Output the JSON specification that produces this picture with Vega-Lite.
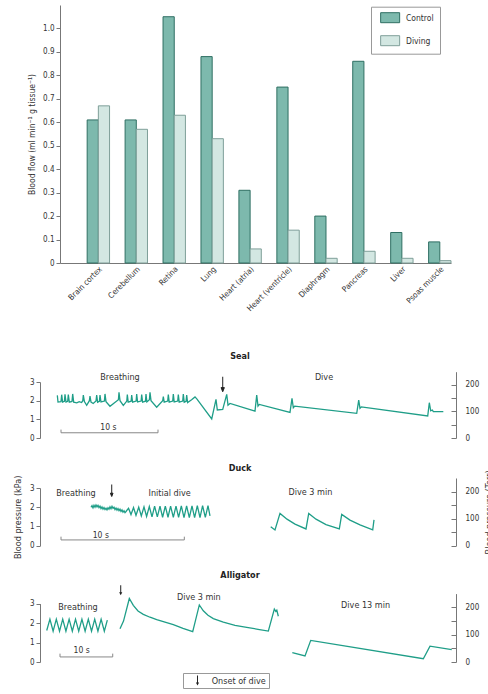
{
  "$schema": "https://vega.github.io/schema/vega-lite/v6.json",
  "padding": {"left": 13, "top": 5, "right": 0, "bottom": 0},
  "config": {
    "font": "Liberation Sans Narrow, DejaVu Sans Condensed, Liberation Sans, sans-serif",
    "view": {"stroke": null},
    "axis": {"labelFontSize": 8, "labelColor": "#333", "domainColor": "#777", "tickColor": "#777", "grid": false, "titleFontSize": 8.5, "titleFontWeight": "normal", "titleColor": "#333"},
    "title": {"fontSize": 9, "fontWeight": "bold", "color": "#222", "anchor": "middle"}
  },
  "datasets": {
    "flow": [
      {"organ": "Brain cortex", "condition": "Control", "flow": 0.61},
      {"organ": "Brain cortex", "condition": "Diving", "flow": 0.67},
      {"organ": "Cerebellum", "condition": "Control", "flow": 0.61},
      {"organ": "Cerebellum", "condition": "Diving", "flow": 0.57},
      {"organ": "Retina", "condition": "Control", "flow": 1.05},
      {"organ": "Retina", "condition": "Diving", "flow": 0.63},
      {"organ": "Lung", "condition": "Control", "flow": 0.88},
      {"organ": "Lung", "condition": "Diving", "flow": 0.53},
      {"organ": "Heart (atria)", "condition": "Control", "flow": 0.31},
      {"organ": "Heart (atria)", "condition": "Diving", "flow": 0.06},
      {"organ": "Heart (ventricle)", "condition": "Control", "flow": 0.75},
      {"organ": "Heart (ventricle)", "condition": "Diving", "flow": 0.14},
      {"organ": "Diaphragm", "condition": "Control", "flow": 0.2},
      {"organ": "Diaphragm", "condition": "Diving", "flow": 0.02},
      {"organ": "Pancreas", "condition": "Control", "flow": 0.86},
      {"organ": "Pancreas", "condition": "Diving", "flow": 0.05},
      {"organ": "Liver", "condition": "Control", "flow": 0.13},
      {"organ": "Liver", "condition": "Diving", "flow": 0.02},
      {"organ": "Psoas muscle", "condition": "Control", "flow": 0.09},
      {"organ": "Psoas muscle", "condition": "Diving", "flow": 0.01}
    ],
    "traces": [
      {"animal": "Seal", "seg": 1, "t": 4.33, "kPa": 2.28},
      {"animal": "Seal", "seg": 1, "t": 4.5, "kPa": 1.93},
      {"animal": "Seal", "seg": 1, "t": 5.25, "kPa": 1.95},
      {"animal": "Seal", "seg": 1, "t": 5.42, "kPa": 2.32},
      {"animal": "Seal", "seg": 1, "t": 5.65, "kPa": 1.92},
      {"animal": "Seal", "seg": 1, "t": 6.1, "kPa": 1.96},
      {"animal": "Seal", "seg": 1, "t": 6.25, "kPa": 2.34},
      {"animal": "Seal", "seg": 1, "t": 6.5, "kPa": 1.93},
      {"animal": "Seal", "seg": 1, "t": 6.92, "kPa": 1.97},
      {"animal": "Seal", "seg": 1, "t": 7.08, "kPa": 2.33},
      {"animal": "Seal", "seg": 1, "t": 7.33, "kPa": 1.92},
      {"animal": "Seal", "seg": 1, "t": 8.0, "kPa": 1.96},
      {"animal": "Seal", "seg": 1, "t": 8.17, "kPa": 2.36},
      {"animal": "Seal", "seg": 1, "t": 8.42, "kPa": 1.92},
      {"animal": "Seal", "seg": 1, "t": 9.2, "kPa": 1.88},
      {"animal": "Seal", "seg": 1, "t": 9.8, "kPa": 1.95},
      {"animal": "Seal", "seg": 1, "t": 10.4, "kPa": 1.9},
      {"animal": "Seal", "seg": 1, "t": 10.7, "kPa": 2.0},
      {"animal": "Seal", "seg": 1, "t": 10.83, "kPa": 2.3},
      {"animal": "Seal", "seg": 1, "t": 11.1, "kPa": 1.95},
      {"animal": "Seal", "seg": 1, "t": 11.67, "kPa": 1.75},
      {"animal": "Seal", "seg": 1, "t": 12.35, "kPa": 2.0},
      {"animal": "Seal", "seg": 1, "t": 12.5, "kPa": 2.25},
      {"animal": "Seal", "seg": 1, "t": 12.75, "kPa": 1.92},
      {"animal": "Seal", "seg": 1, "t": 13.3, "kPa": 1.85},
      {"animal": "Seal", "seg": 1, "t": 14.0, "kPa": 1.98},
      {"animal": "Seal", "seg": 1, "t": 14.17, "kPa": 2.3},
      {"animal": "Seal", "seg": 1, "t": 14.4, "kPa": 1.92},
      {"animal": "Seal", "seg": 1, "t": 14.85, "kPa": 1.97},
      {"animal": "Seal", "seg": 1, "t": 15.0, "kPa": 2.3},
      {"animal": "Seal", "seg": 1, "t": 15.25, "kPa": 1.93},
      {"animal": "Seal", "seg": 1, "t": 16.1, "kPa": 1.98},
      {"animal": "Seal", "seg": 1, "t": 16.25, "kPa": 2.36},
      {"animal": "Seal", "seg": 1, "t": 16.5, "kPa": 1.95},
      {"animal": "Seal", "seg": 1, "t": 17.5, "kPa": 1.7},
      {"animal": "Seal", "seg": 1, "t": 19.6, "kPa": 2.05},
      {"animal": "Seal", "seg": 1, "t": 19.75, "kPa": 2.45},
      {"animal": "Seal", "seg": 1, "t": 20.0, "kPa": 2.0},
      {"animal": "Seal", "seg": 1, "t": 20.83, "kPa": 1.75},
      {"animal": "Seal", "seg": 1, "t": 21.7, "kPa": 1.98},
      {"animal": "Seal", "seg": 1, "t": 21.83, "kPa": 2.33},
      {"animal": "Seal", "seg": 1, "t": 22.05, "kPa": 1.92},
      {"animal": "Seal", "seg": 1, "t": 22.78, "kPa": 1.97},
      {"animal": "Seal", "seg": 1, "t": 22.92, "kPa": 2.3},
      {"animal": "Seal", "seg": 1, "t": 23.15, "kPa": 1.92},
      {"animal": "Seal", "seg": 1, "t": 24.03, "kPa": 1.98},
      {"animal": "Seal", "seg": 1, "t": 24.17, "kPa": 2.35},
      {"animal": "Seal", "seg": 1, "t": 24.4, "kPa": 1.93},
      {"animal": "Seal", "seg": 1, "t": 25.28, "kPa": 1.98},
      {"animal": "Seal", "seg": 1, "t": 25.42, "kPa": 2.33},
      {"animal": "Seal", "seg": 1, "t": 25.65, "kPa": 1.92},
      {"animal": "Seal", "seg": 1, "t": 26.36, "kPa": 1.97},
      {"animal": "Seal", "seg": 1, "t": 26.5, "kPa": 2.35},
      {"animal": "Seal", "seg": 1, "t": 26.72, "kPa": 1.93},
      {"animal": "Seal", "seg": 1, "t": 27.35, "kPa": 2.05},
      {"animal": "Seal", "seg": 1, "t": 27.5, "kPa": 2.45},
      {"animal": "Seal", "seg": 1, "t": 27.75, "kPa": 2.0},
      {"animal": "Seal", "seg": 1, "t": 29.17, "kPa": 1.65},
      {"animal": "Seal", "seg": 1, "t": 30.68, "kPa": 2.0},
      {"animal": "Seal", "seg": 1, "t": 30.83, "kPa": 2.22},
      {"animal": "Seal", "seg": 1, "t": 31.05, "kPa": 1.92},
      {"animal": "Seal", "seg": 1, "t": 31.93, "kPa": 1.98},
      {"animal": "Seal", "seg": 1, "t": 32.08, "kPa": 2.33},
      {"animal": "Seal", "seg": 1, "t": 32.3, "kPa": 1.92},
      {"animal": "Seal", "seg": 1, "t": 33.18, "kPa": 1.98},
      {"animal": "Seal", "seg": 1, "t": 33.33, "kPa": 2.35},
      {"animal": "Seal", "seg": 1, "t": 33.55, "kPa": 1.93},
      {"animal": "Seal", "seg": 1, "t": 34.43, "kPa": 1.98},
      {"animal": "Seal", "seg": 1, "t": 34.58, "kPa": 2.33},
      {"animal": "Seal", "seg": 1, "t": 34.8, "kPa": 1.92},
      {"animal": "Seal", "seg": 1, "t": 35.68, "kPa": 1.98},
      {"animal": "Seal", "seg": 1, "t": 35.83, "kPa": 2.35},
      {"animal": "Seal", "seg": 1, "t": 36.05, "kPa": 1.92},
      {"animal": "Seal", "seg": 1, "t": 36.52, "kPa": 1.97},
      {"animal": "Seal", "seg": 1, "t": 36.67, "kPa": 2.3},
      {"animal": "Seal", "seg": 1, "t": 36.9, "kPa": 1.9},
      {"animal": "Seal", "seg": 1, "t": 37.9, "kPa": 2.05},
      {"animal": "Seal", "seg": 1, "t": 38.75, "kPa": 2.2},
      {"animal": "Seal", "seg": 1, "t": 39.25, "kPa": 2.08},
      {"animal": "Seal", "seg": 1, "t": 42.93, "kPa": 1.02},
      {"animal": "Seal", "seg": 1, "t": 44.0, "kPa": 2.07},
      {"animal": "Seal", "seg": 1, "t": 44.33, "kPa": 1.5},
      {"animal": "Seal", "seg": 1, "t": 45.68, "kPa": 1.53},
      {"animal": "Seal", "seg": 1, "t": 46.68, "kPa": 2.34},
      {"animal": "Seal", "seg": 1, "t": 47.0, "kPa": 1.76},
      {"animal": "Seal", "seg": 1, "t": 47.5, "kPa": 1.85},
      {"animal": "Seal", "seg": 1, "t": 53.75, "kPa": 1.44},
      {"animal": "Seal", "seg": 1, "t": 54.18, "kPa": 2.3},
      {"animal": "Seal", "seg": 1, "t": 54.5, "kPa": 1.71},
      {"animal": "Seal", "seg": 1, "t": 54.83, "kPa": 1.8},
      {"animal": "Seal", "seg": 1, "t": 62.5, "kPa": 1.37},
      {"animal": "Seal", "seg": 1, "t": 63.0, "kPa": 2.12},
      {"animal": "Seal", "seg": 1, "t": 63.33, "kPa": 1.62},
      {"animal": "Seal", "seg": 1, "t": 63.68, "kPa": 1.71},
      {"animal": "Seal", "seg": 1, "t": 79.18, "kPa": 1.32},
      {"animal": "Seal", "seg": 1, "t": 79.68, "kPa": 2.03},
      {"animal": "Seal", "seg": 1, "t": 80.0, "kPa": 1.59},
      {"animal": "Seal", "seg": 1, "t": 80.33, "kPa": 1.67},
      {"animal": "Seal", "seg": 1, "t": 96.93, "kPa": 1.18},
      {"animal": "Seal", "seg": 1, "t": 97.33, "kPa": 1.89},
      {"animal": "Seal", "seg": 1, "t": 97.68, "kPa": 1.46},
      {"animal": "Seal", "seg": 1, "t": 98.08, "kPa": 1.5},
      {"animal": "Seal", "seg": 1, "t": 98.33, "kPa": 1.41},
      {"animal": "Seal", "seg": 1, "t": 100.83, "kPa": 1.41},

      {"animal": "Duck", "seg": 1, "t": 12.75, "kPa": 2.0},
      {"animal": "Duck", "seg": 1, "t": 13.0, "kPa": 2.08},
      {"animal": "Duck", "seg": 1, "t": 13.25, "kPa": 1.97},
      {"animal": "Duck", "seg": 1, "t": 13.5, "kPa": 2.1},
      {"animal": "Duck", "seg": 1, "t": 13.75, "kPa": 2.0},
      {"animal": "Duck", "seg": 1, "t": 14.0, "kPa": 2.12},
      {"animal": "Duck", "seg": 1, "t": 14.25, "kPa": 2.02},
      {"animal": "Duck", "seg": 1, "t": 14.5, "kPa": 2.1},
      {"animal": "Duck", "seg": 1, "t": 14.75, "kPa": 1.98},
      {"animal": "Duck", "seg": 1, "t": 15.0, "kPa": 2.06},
      {"animal": "Duck", "seg": 1, "t": 15.25, "kPa": 1.93},
      {"animal": "Duck", "seg": 1, "t": 15.5, "kPa": 2.02},
      {"animal": "Duck", "seg": 1, "t": 15.75, "kPa": 1.9},
      {"animal": "Duck", "seg": 1, "t": 16.0, "kPa": 1.98},
      {"animal": "Duck", "seg": 1, "t": 16.25, "kPa": 1.88},
      {"animal": "Duck", "seg": 1, "t": 16.5, "kPa": 1.95},
      {"animal": "Duck", "seg": 1, "t": 16.75, "kPa": 1.86},
      {"animal": "Duck", "seg": 1, "t": 17.0, "kPa": 1.97},
      {"animal": "Duck", "seg": 1, "t": 17.25, "kPa": 1.9},
      {"animal": "Duck", "seg": 1, "t": 17.5, "kPa": 2.02},
      {"animal": "Duck", "seg": 1, "t": 17.75, "kPa": 1.92},
      {"animal": "Duck", "seg": 1, "t": 18.0, "kPa": 2.05},
      {"animal": "Duck", "seg": 1, "t": 18.25, "kPa": 1.94},
      {"animal": "Duck", "seg": 1, "t": 18.5, "kPa": 2.0},
      {"animal": "Duck", "seg": 1, "t": 18.75, "kPa": 1.88},
      {"animal": "Duck", "seg": 1, "t": 19.0, "kPa": 1.96},
      {"animal": "Duck", "seg": 1, "t": 19.25, "kPa": 1.85},
      {"animal": "Duck", "seg": 1, "t": 19.5, "kPa": 1.93},
      {"animal": "Duck", "seg": 1, "t": 19.75, "kPa": 1.82},
      {"animal": "Duck", "seg": 1, "t": 20.0, "kPa": 1.9},
      {"animal": "Duck", "seg": 1, "t": 20.25, "kPa": 1.78},
      {"animal": "Duck", "seg": 1, "t": 20.5, "kPa": 1.86},
      {"animal": "Duck", "seg": 1, "t": 20.75, "kPa": 1.74},
      {"animal": "Duck", "seg": 1, "t": 21.0, "kPa": 1.82},
      {"animal": "Duck", "seg": 1, "t": 21.25, "kPa": 1.72},
      {"animal": "Duck", "seg": 1, "t": 21.5, "kPa": 1.78},
      {"animal": "Duck", "seg": 1, "t": 22.13, "kPa": 1.95},
      {"animal": "Duck", "seg": 1, "t": 22.75, "kPa": 1.62},
      {"animal": "Duck", "seg": 1, "t": 23.38, "kPa": 1.98},
      {"animal": "Duck", "seg": 1, "t": 24.0, "kPa": 1.58},
      {"animal": "Duck", "seg": 1, "t": 24.68, "kPa": 2.0},
      {"animal": "Duck", "seg": 1, "t": 25.33, "kPa": 1.55},
      {"animal": "Duck", "seg": 1, "t": 26.0, "kPa": 2.02},
      {"animal": "Duck", "seg": 1, "t": 26.65, "kPa": 1.52},
      {"animal": "Duck", "seg": 1, "t": 27.33, "kPa": 2.04},
      {"animal": "Duck", "seg": 1, "t": 28.0, "kPa": 1.5},
      {"animal": "Duck", "seg": 1, "t": 28.65, "kPa": 2.05},
      {"animal": "Duck", "seg": 1, "t": 29.33, "kPa": 1.5},
      {"animal": "Duck", "seg": 1, "t": 30.0, "kPa": 2.05},
      {"animal": "Duck", "seg": 1, "t": 30.65, "kPa": 1.48},
      {"animal": "Duck", "seg": 1, "t": 31.33, "kPa": 2.06},
      {"animal": "Duck", "seg": 1, "t": 32.0, "kPa": 1.48},
      {"animal": "Duck", "seg": 1, "t": 32.65, "kPa": 2.06},
      {"animal": "Duck", "seg": 1, "t": 33.33, "kPa": 1.47},
      {"animal": "Duck", "seg": 1, "t": 34.0, "kPa": 2.06},
      {"animal": "Duck", "seg": 1, "t": 34.65, "kPa": 1.47},
      {"animal": "Duck", "seg": 1, "t": 35.33, "kPa": 2.07},
      {"animal": "Duck", "seg": 1, "t": 36.0, "kPa": 1.46},
      {"animal": "Duck", "seg": 1, "t": 36.65, "kPa": 2.07},
      {"animal": "Duck", "seg": 1, "t": 37.33, "kPa": 1.46},
      {"animal": "Duck", "seg": 1, "t": 38.0, "kPa": 2.07},
      {"animal": "Duck", "seg": 1, "t": 38.65, "kPa": 1.46},
      {"animal": "Duck", "seg": 1, "t": 39.33, "kPa": 2.08},
      {"animal": "Duck", "seg": 1, "t": 40.0, "kPa": 1.46},
      {"animal": "Duck", "seg": 1, "t": 40.65, "kPa": 2.08},
      {"animal": "Duck", "seg": 1, "t": 41.33, "kPa": 1.47},
      {"animal": "Duck", "seg": 1, "t": 42.0, "kPa": 2.08},
      {"animal": "Duck", "seg": 1, "t": 42.5, "kPa": 1.55},
      {"animal": "Duck", "seg": 2, "t": 57.68, "kPa": 0.99},
      {"animal": "Duck", "seg": 2, "t": 58.75, "kPa": 0.82},
      {"animal": "Duck", "seg": 2, "t": 60.0, "kPa": 1.68},
      {"animal": "Duck", "seg": 2, "t": 61.75, "kPa": 1.38},
      {"animal": "Duck", "seg": 2, "t": 63.75, "kPa": 1.12},
      {"animal": "Duck", "seg": 2, "t": 66.5, "kPa": 0.87},
      {"animal": "Duck", "seg": 2, "t": 67.18, "kPa": 1.68},
      {"animal": "Duck", "seg": 2, "t": 69.0, "kPa": 1.38},
      {"animal": "Duck", "seg": 2, "t": 71.5, "kPa": 1.1},
      {"animal": "Duck", "seg": 2, "t": 74.83, "kPa": 0.87},
      {"animal": "Duck", "seg": 2, "t": 75.43, "kPa": 1.63},
      {"animal": "Duck", "seg": 2, "t": 77.5, "kPa": 1.33},
      {"animal": "Duck", "seg": 2, "t": 80.0, "kPa": 1.08},
      {"animal": "Duck", "seg": 2, "t": 83.18, "kPa": 0.82},
      {"animal": "Duck", "seg": 2, "t": 83.5, "kPa": 1.34},

      {"animal": "Alligator", "seg": 1, "t": 1.68, "kPa": 1.62},
      {"animal": "Alligator", "seg": 1, "t": 2.48, "kPa": 2.2},
      {"animal": "Alligator", "seg": 1, "t": 3.28, "kPa": 1.58},
      {"animal": "Alligator", "seg": 1, "t": 4.08, "kPa": 2.2},
      {"animal": "Alligator", "seg": 1, "t": 4.88, "kPa": 1.58},
      {"animal": "Alligator", "seg": 1, "t": 5.68, "kPa": 2.2},
      {"animal": "Alligator", "seg": 1, "t": 6.48, "kPa": 1.58},
      {"animal": "Alligator", "seg": 1, "t": 7.28, "kPa": 2.2},
      {"animal": "Alligator", "seg": 1, "t": 8.08, "kPa": 1.58},
      {"animal": "Alligator", "seg": 1, "t": 8.88, "kPa": 2.2},
      {"animal": "Alligator", "seg": 1, "t": 9.68, "kPa": 1.58},
      {"animal": "Alligator", "seg": 1, "t": 10.48, "kPa": 2.2},
      {"animal": "Alligator", "seg": 1, "t": 11.28, "kPa": 1.58},
      {"animal": "Alligator", "seg": 1, "t": 12.08, "kPa": 2.2},
      {"animal": "Alligator", "seg": 1, "t": 12.88, "kPa": 1.58},
      {"animal": "Alligator", "seg": 1, "t": 13.68, "kPa": 2.2},
      {"animal": "Alligator", "seg": 1, "t": 14.48, "kPa": 1.58},
      {"animal": "Alligator", "seg": 1, "t": 15.28, "kPa": 2.2},
      {"animal": "Alligator", "seg": 1, "t": 16.08, "kPa": 1.58},
      {"animal": "Alligator", "seg": 1, "t": 16.83, "kPa": 2.15},
      {"animal": "Alligator", "seg": 2, "t": 20.0, "kPa": 1.71},
      {"animal": "Alligator", "seg": 2, "t": 20.88, "kPa": 2.1},
      {"animal": "Alligator", "seg": 2, "t": 22.33, "kPa": 3.26},
      {"animal": "Alligator", "seg": 2, "t": 23.33, "kPa": 2.91},
      {"animal": "Alligator", "seg": 2, "t": 24.5, "kPa": 2.62},
      {"animal": "Alligator", "seg": 2, "t": 25.83, "kPa": 2.45},
      {"animal": "Alligator", "seg": 2, "t": 27.5, "kPa": 2.3},
      {"animal": "Alligator", "seg": 2, "t": 29.18, "kPa": 2.18},
      {"animal": "Alligator", "seg": 2, "t": 31.25, "kPa": 2.05},
      {"animal": "Alligator", "seg": 2, "t": 33.33, "kPa": 1.92},
      {"animal": "Alligator", "seg": 2, "t": 35.75, "kPa": 1.73},
      {"animal": "Alligator", "seg": 2, "t": 38.18, "kPa": 1.56},
      {"animal": "Alligator", "seg": 2, "t": 39.83, "kPa": 2.93},
      {"animal": "Alligator", "seg": 2, "t": 40.83, "kPa": 2.63},
      {"animal": "Alligator", "seg": 2, "t": 42.0, "kPa": 2.4},
      {"animal": "Alligator", "seg": 2, "t": 43.33, "kPa": 2.23},
      {"animal": "Alligator", "seg": 2, "t": 45.83, "kPa": 2.05},
      {"animal": "Alligator", "seg": 2, "t": 48.75, "kPa": 1.88},
      {"animal": "Alligator", "seg": 2, "t": 51.68, "kPa": 1.78},
      {"animal": "Alligator", "seg": 2, "t": 54.5, "kPa": 1.68},
      {"animal": "Alligator", "seg": 2, "t": 57.08, "kPa": 1.59},
      {"animal": "Alligator", "seg": 2, "t": 58.58, "kPa": 2.72},
      {"animal": "Alligator", "seg": 2, "t": 58.95, "kPa": 2.6},
      {"animal": "Alligator", "seg": 2, "t": 59.2, "kPa": 2.66},
      {"animal": "Alligator", "seg": 2, "t": 59.58, "kPa": 2.35},
      {"animal": "Alligator", "seg": 3, "t": 63.08, "kPa": 0.48},
      {"animal": "Alligator", "seg": 3, "t": 66.25, "kPa": 0.31},
      {"animal": "Alligator", "seg": 3, "t": 67.68, "kPa": 1.11},
      {"animal": "Alligator", "seg": 3, "t": 95.83, "kPa": 0.17},
      {"animal": "Alligator", "seg": 3, "t": 97.5, "kPa": 0.81},
      {"animal": "Alligator", "seg": 3, "t": 102.93, "kPa": 0.64}
    ],
    "notes": [
      {"animal": "Seal", "text": "Breathing", "t": 20, "torr": 231},
      {"animal": "Seal", "text": "Dive", "t": 71, "torr": 231},
      {"animal": "Duck", "text": "Breathing", "t": 9, "torr": 193.5},
      {"animal": "Duck", "text": "Initial dive", "t": 32.4, "torr": 193.5},
      {"animal": "Duck", "text": "Dive 3 min", "t": 67.6, "torr": 199},
      {"animal": "Alligator", "text": "Breathing", "t": 9.5, "torr": 201},
      {"animal": "Alligator", "text": "Dive 3 min", "t": 39.7, "torr": 237.6},
      {"animal": "Alligator", "text": "Dive 13 min", "t": 81.4, "torr": 207}
    ],
    "scalebars": [
      {"animal": "Seal", "i": 1, "t": 5.25, "kPa": 0.45},
      {"animal": "Seal", "i": 2, "t": 5.25, "kPa": 0.28},
      {"animal": "Seal", "i": 3, "t": 29.5, "kPa": 0.28},
      {"animal": "Seal", "i": 4, "t": 29.5, "kPa": 0.45},
      {"animal": "Duck", "i": 1, "t": 5.25, "kPa": 0.47},
      {"animal": "Duck", "i": 2, "t": 5.25, "kPa": 0.3},
      {"animal": "Duck", "i": 3, "t": 36.08, "kPa": 0.3},
      {"animal": "Duck", "i": 4, "t": 36.08, "kPa": 0.47},
      {"animal": "Alligator", "i": 1, "t": 5, "kPa": 0.43},
      {"animal": "Alligator", "i": 2, "t": 5, "kPa": 0.26},
      {"animal": "Alligator", "i": 3, "t": 18.18, "kPa": 0.26},
      {"animal": "Alligator", "i": 4, "t": 18.18, "kPa": 0.43}
    ],
    "scalelabels": [
      {"animal": "Seal", "text": "10 s", "t": 17.1, "kPa": 0.59},
      {"animal": "Duck", "text": "10 s", "t": 15.2, "kPa": 0.56},
      {"animal": "Alligator", "text": "10 s", "t": 10.4, "kPa": 0.6}
    ],
    "onsets": [
      {"animal": "Seal", "t": 45.68, "kPa": 2.88},
      {"animal": "Duck", "t": 17.93, "kPa": 2.87},
      {"animal": "Alligator", "t": 20.18, "kPa": 3.68, "event": "Onset of dive"}
    ]
  },
  "spacing": 40,
  "bounds": "flush",
  "resolve": {"legend": {"fill": "independent", "shape": "independent"}, "scale": {"fill": "independent", "shape": "independent", "stroke": "independent"}},
  "vconcat": [
    {
      "width": 391,
      "height": 258,
      "data": {"name": "flow"},
      "mark": {"type": "bar", "strokeWidth": 1},
      "encoding": {
        "x": {"field": "organ", "type": "nominal", "sort": null,
              "scale": {"paddingInner": 0.41, "paddingOuter": 0.358, "align": 1},
              "axis": {"title": null, "labelAngle": -45, "ticks": false, "labelPadding": 2, "labelFontSize": 8}},
        "xOffset": {"field": "condition", "type": "nominal", "sort": ["Control", "Diving"]},
        "y": {"field": "flow", "type": "quantitative",
              "scale": {"domain": [0, 1.1], "nice": false},
              "axis": {"title": "Blood flow (ml min⁻¹ g tissue⁻¹)", "values": [0, 0.1, 0.2, 0.3, 0.4, 0.5, 0.6, 0.7, 0.8, 0.9, 1.0],
                       "labelExpr": "datum.value == 0 ? '0' : format(datum.value, '.1f')",
                       "tickSize": 4, "labelPadding": 2, "titlePadding": 6}},
        "fill": {"field": "condition", "type": "nominal",
                 "scale": {"domain": ["Control", "Diving"], "range": ["#7db9ad", "#d3e7e2"]},
                 "legend": {"title": null, "orient": "none", "legendX": 311, "legendY": 1.7, "direction": "vertical",
                            "symbolType": "M-1.9,-1H1.9V1H-1.9Z", "symbolSize": 100, "symbolStrokeWidth": 1,
                            "symbolStrokeColor": "#3b7b6f", "symbolOffset": 8.15, "labelOffset": 10.35,
                            "padding": 5.5, "rowPadding": 8, "strokeColor": "#999", "fillColor": "white",
                            "labelFontSize": 8.5, "labelColor": "#333"}},
        "stroke": {"field": "condition", "type": "nominal",
                   "scale": {"domain": ["Control", "Diving"], "range": ["#2f6f63", "#7f9f99"]}, "legend": null}
      }
    },
    {
      "width": 396,
      "height": 135,
      "title": {"text": "Seal", "offset": -58, "dx": -18},
      "layer": [
        {
          "data": {"name": "traces"},
          "transform": [{"filter": "datum.animal === 'Seal'"}],
          "mark": {"type": "line", "color": "#1f9e88", "strokeWidth": 1.3},
          "encoding": {
            "x": {"field": "t", "type": "quantitative", "scale": {"domain": [0, 104], "range": [-20, 396], "nice": false, "zero": false},
                  "axis": {"title": null, "labels": false, "ticks": false}},
            "y": {"field": "kPa", "type": "quantitative", "scale": {"domain": [0, 3], "range": [135, 79], "nice": false},
                  "axis": {"title": null, "orient": "left", "offset": 20, "values": [0, 1, 2, 3], "tickSize": 4, "labelPadding": 2}},
            "detail": {"field": "seg"}
          }
        },
        {
          "data": {"name": "notes"},
          "transform": [{"filter": "datum.animal === 'Seal'"}],
          "mark": {"type": "text", "fontSize": 9, "color": "#333", "baseline": "middle"},
          "encoding": {
            "x": {"field": "t", "type": "quantitative", "axis": null},
            "y": {"field": "torr", "type": "quantitative", "scale": {"domain": [0, 250], "range": [135, 68.7], "nice": false},
                  "axis": {"title": null, "orient": "right", "values": [0, 50, 100, 150, 200],
                           "labelExpr": "datum.value % 100 === 0 ? datum.label : ''", "tickSize": -5, "labelPadding": 14}},
            "text": {"field": "text"}
          }
        },
        {
          "data": {"name": "scalebars"},
          "transform": [{"filter": "datum.animal === 'Seal'"}],
          "mark": {"type": "line", "color": "#888", "strokeWidth": 1},
          "encoding": {
            "x": {"field": "t", "type": "quantitative", "axis": null},
            "y": {"field": "kPa", "type": "quantitative", "scale": {"domain": [0, 3], "range": [135, 79], "nice": false}, "axis": null},
            "order": {"field": "i"}
          }
        },
        {
          "data": {"name": "scalelabels"},
          "transform": [{"filter": "datum.animal === 'Seal'"}],
          "mark": {"type": "text", "fontSize": 8.5, "color": "#333", "baseline": "middle"},
          "encoding": {
            "x": {"field": "t", "type": "quantitative", "axis": null},
            "y": {"field": "kPa", "type": "quantitative", "scale": {"domain": [0, 3], "range": [135, 79], "nice": false}, "axis": null},
            "text": {"field": "text"}
          }
        },
        {
          "data": {"name": "onsets"},
          "transform": [{"filter": "datum.animal === 'Seal'"}],
          "mark": {"type": "point", "shape": "M0,-1V0.5M-0.22,0.45L0,1L0.22,0.45Z", "size": 225, "filled": true, "color": "#222", "stroke": "#222", "strokeWidth": 1, "opacity": 1},
          "encoding": {
            "x": {"field": "t", "type": "quantitative", "axis": null},
            "y": {"field": "kPa", "type": "quantitative", "scale": {"domain": [0, 3], "range": [135, 79], "nice": false}, "axis": null}
          }
        }
      ],
      "resolve": {"scale": {"y": "independent"}}
    },
    {
      "width": 396,
      "height": 67.7,
      "title": {"text": "Duck", "offset": -3, "dx": -18},
      "layer": [
        {
          "data": {"name": "traces"},
          "transform": [{"filter": "datum.animal === 'Duck'"}],
          "mark": {"type": "line", "color": "#1f9e88", "strokeWidth": 1.3},
          "encoding": {
            "x": {"field": "t", "type": "quantitative", "scale": {"domain": [0, 104], "range": [-20, 396], "nice": false, "zero": false},
                  "axis": {"title": null, "labels": false, "ticks": false}},
            "y": {"field": "kPa", "type": "quantitative", "scale": {"domain": [0, 3], "range": [67.7, 10], "nice": false},
                  "axis": {"title": "Blood pressure (kPa)", "titleFontSize": 9, "titlePadding": 7, "orient": "left", "offset": 20, "values": [0, 1, 2, 3], "tickSize": 4, "labelPadding": 2}},
            "detail": {"field": "seg"}
          }
        },
        {
          "data": {"name": "notes"},
          "transform": [{"filter": "datum.animal === 'Duck'"}],
          "mark": {"type": "text", "fontSize": 9, "color": "#333", "baseline": "middle"},
          "encoding": {
            "x": {"field": "t", "type": "quantitative", "axis": null},
            "y": {"field": "torr", "type": "quantitative", "scale": {"domain": [0, 250], "range": [67.7, 0], "nice": false},
                  "axis": {"title": "Blood pressure (Torr)", "titleAngle": 270, "titleFontSize": 9, "titlePadding": 15, "orient": "right", "values": [0, 50, 100, 150, 200],
                           "labelExpr": "datum.value % 100 === 0 ? datum.label : ''", "tickSize": -5, "labelPadding": 14}},
            "text": {"field": "text"}
          }
        },
        {
          "data": {"name": "scalebars"},
          "transform": [{"filter": "datum.animal === 'Duck'"}],
          "mark": {"type": "line", "color": "#888", "strokeWidth": 1},
          "encoding": {
            "x": {"field": "t", "type": "quantitative", "axis": null},
            "y": {"field": "kPa", "type": "quantitative", "scale": {"domain": [0, 3], "range": [67.7, 10], "nice": false}, "axis": null},
            "order": {"field": "i"}
          }
        },
        {
          "data": {"name": "scalelabels"},
          "transform": [{"filter": "datum.animal === 'Duck'"}],
          "mark": {"type": "text", "fontSize": 8.5, "color": "#333", "baseline": "middle"},
          "encoding": {
            "x": {"field": "t", "type": "quantitative", "axis": null},
            "y": {"field": "kPa", "type": "quantitative", "scale": {"domain": [0, 3], "range": [67.7, 10], "nice": false}, "axis": null},
            "text": {"field": "text"}
          }
        },
        {
          "data": {"name": "onsets"},
          "transform": [{"filter": "datum.animal === 'Duck'"}],
          "mark": {"type": "point", "shape": "M0,-1V0.5M-0.22,0.45L0,1L0.22,0.45Z", "size": 144, "filled": true, "color": "#222", "stroke": "#222", "strokeWidth": 1, "opacity": 1},
          "encoding": {
            "x": {"field": "t", "type": "quantitative", "axis": null},
            "y": {"field": "kPa", "type": "quantitative", "scale": {"domain": [0, 3], "range": [67.7, 10], "nice": false}, "axis": null}
          }
        }
      ],
      "resolve": {"scale": {"y": "independent"}}
    },
    {
      "width": 396,
      "height": 76,
      "title": {"text": "Alligator", "offset": 5.7, "dx": -18},
      "layer": [
        {
          "data": {"name": "traces"},
          "transform": [{"filter": "datum.animal === 'Alligator'"}],
          "mark": {"type": "line", "color": "#1f9e88", "strokeWidth": 1.3},
          "encoding": {
            "x": {"field": "t", "type": "quantitative", "scale": {"domain": [0, 104], "range": [-20, 396], "nice": false, "zero": false},
                  "axis": {"title": null, "labels": false, "ticks": false}},
            "y": {"field": "kPa", "type": "quantitative", "scale": {"domain": [0, 3], "range": [76, 17.6], "nice": false},
                  "axis": {"title": null, "orient": "left", "offset": 20, "values": [0, 1, 2, 3], "tickSize": 4, "labelPadding": 2}},
            "detail": {"field": "seg"}
          }
        },
        {
          "data": {"name": "notes"},
          "transform": [{"filter": "datum.animal === 'Alligator'"}],
          "mark": {"type": "text", "fontSize": 9, "color": "#333", "baseline": "middle"},
          "encoding": {
            "x": {"field": "t", "type": "quantitative", "axis": null},
            "y": {"field": "torr", "type": "quantitative", "scale": {"domain": [0, 250], "range": [76, 7.6], "nice": false},
                  "axis": {"title": null, "orient": "right", "values": [0, 50, 100, 150, 200],
                           "labelExpr": "datum.value % 100 === 0 ? datum.label : ''", "tickSize": -5, "labelPadding": 14}},
            "text": {"field": "text"}
          }
        },
        {
          "data": {"name": "scalebars"},
          "transform": [{"filter": "datum.animal === 'Alligator'"}],
          "mark": {"type": "line", "color": "#888", "strokeWidth": 1},
          "encoding": {
            "x": {"field": "t", "type": "quantitative", "axis": null},
            "y": {"field": "kPa", "type": "quantitative", "scale": {"domain": [0, 3], "range": [76, 17.6], "nice": false}, "axis": null},
            "order": {"field": "i"}
          }
        },
        {
          "data": {"name": "scalelabels"},
          "transform": [{"filter": "datum.animal === 'Alligator'"}],
          "mark": {"type": "text", "fontSize": 8.5, "color": "#333", "baseline": "middle"},
          "encoding": {
            "x": {"field": "t", "type": "quantitative", "axis": null},
            "y": {"field": "kPa", "type": "quantitative", "scale": {"domain": [0, 3], "range": [76, 17.6], "nice": false}, "axis": null},
            "text": {"field": "text"}
          }
        },
        {
          "data": {"name": "onsets"},
          "transform": [{"filter": "datum.animal === 'Alligator'"}],
          "mark": {"type": "point", "size": 100, "filled": true, "color": "#222", "opacity": 1},
          "encoding": {
            "x": {"field": "t", "type": "quantitative", "axis": null},
            "y": {"field": "kPa", "type": "quantitative", "scale": {"domain": [0, 3], "range": [76, 17.6], "nice": false}, "axis": null},
            "shape": {"field": "event", "type": "nominal",
                      "scale": {"range": ["M-0.1,-1H0.1V0.4H0.32L0,1L-0.32,0.4H-0.1Z"]},
                      "legend": {"title": null, "orient": "none", "legendX": 123, "legendY": 87,
                                 "symbolType": "M-0.1,-1H0.1V0.4H0.32L0,1L-0.32,0.4H-0.1Z",
                                 "symbolSize": 100, "symbolFillColor": "#222", "symbolStrokeColor": "#222", "symbolStrokeWidth": 0,
                                 "padding": 2.5, "symbolOffset": 7, "labelOffset": 9.2, "strokeColor": "#999", "fillColor": "white",
                                 "labelFontSize": 9, "labelColor": "#333",
                                 "encode": {"symbols": {"update": {"fill": {"value": "#222"}, "fillOpacity": {"value": 1}, "opacity": {"value": 1}}}}}}
          }
        }
      ],
      "resolve": {"scale": {"y": "independent"}}
    }
  ]
}
